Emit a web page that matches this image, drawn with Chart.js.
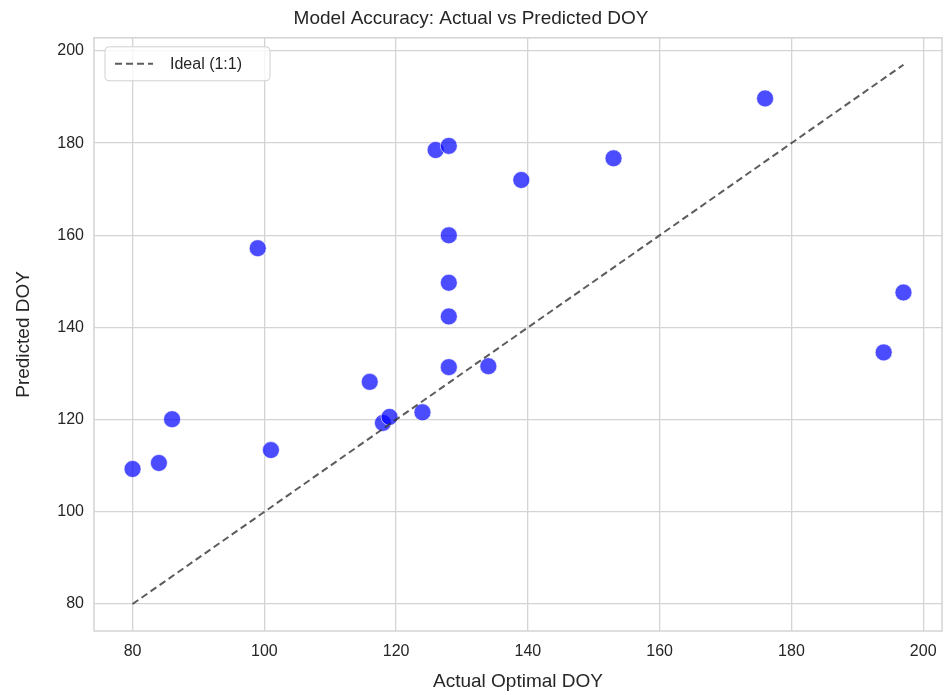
<!DOCTYPE html>
<html>
<head>
<meta charset="utf-8">
<script src="https://cdn.jsdelivr.net/npm/chart.js@4/dist/chart.umd.min.js"></script>
<style>
  html, body { margin: 0; padding: 0; background: #fff; }
  #wrap { width: 945px; height: 695px; }
</style>
</head>
<body>
<div id="wrap"><canvas id="c"></canvas></div>
<script>
// actual vs predicted day of year
const actualDoy = [80, 84, 86, 99, 101, 116, 118, 119, 124, 126, 128, 128, 128, 128, 128, 134, 139, 153, 176, 194, 197];
const predictedDoy = [109.3, 110.6, 120.1, 157.2, 113.4, 128.2, 119.3, 120.6, 121.6, 178.5, 179.4, 160.0, 149.7, 142.4, 131.4, 131.6, 172.0, 176.7, 189.7, 134.6, 147.6];
const idealLine = [80, 197];
const tickValues = [80, 100, 120, 140, 160, 180, 200];

const GRID = '#d4d4d4';
const TXT = '#262626';
const FONT = "'Liberation Sans', Arial, sans-serif";

const pad = (idealLine[1] - idealLine[0]) * 0.05;
const axMin = idealLine[0] - pad, axMax = idealLine[1] + pad;

const frame = {
    id: 'frame',
    afterDraw(chart) {
        const { ctx, chartArea: a } = chart;
        ctx.save();
        ctx.strokeStyle = GRID;
        ctx.lineWidth = 1.5;
        ctx.strokeRect(a.left, a.top, a.right - a.left, a.bottom - a.top);

        // legend box, upper left
        const ds = chart.data.datasets[1];
        const x = a.left + 11, y = a.top + 9, w = 165, h = 34;
        ctx.fillStyle = 'rgba(255,255,255,0.8)';
        ctx.strokeStyle = '#d0d0d0';
        ctx.lineWidth = 1;
        ctx.beginPath();
        ctx.roundRect(x, y, w, h, 4);
        ctx.fill();
        ctx.stroke();
        ctx.strokeStyle = ds.borderColor;
        ctx.lineWidth = ds.borderWidth;
        ctx.setLineDash(ds.borderDash);
        ctx.beginPath();
        ctx.moveTo(x + 10, y + h / 2);
        ctx.lineTo(x + 48, y + h / 2);
        ctx.stroke();
        ctx.setLineDash([]);
        ctx.fillStyle = TXT;
        ctx.font = '16px ' + FONT;
        ctx.textBaseline = 'middle';
        ctx.fillText(ds.label, x + 65, y + h / 2 + 1);
        ctx.restore();
    }
};

new Chart(document.getElementById('c'), {
    type: 'scatter',
    data: {
        datasets: [
            {
                label: 'Predictions',
                data: actualDoy.map((v, i) => ({ x: v, y: predictedDoy[i] })),
                backgroundColor: 'rgba(0,0,255,0.7)',
                borderColor: 'rgba(255,255,255,0.6)',
                borderWidth: 1,
                pointRadius: 8.5,
                pointHoverRadius: 8.5,
                order: 1
            },
            {
                type: 'line',
                label: 'Ideal (1:1)',
                data: idealLine.map(v => ({ x: v, y: v })),
                borderColor: 'rgba(51,51,51,0.8)',
                borderWidth: 2,
                borderDash: [7, 4],
                pointRadius: 0,
                fill: false,
                order: 0
            }
        ]
    },
    options: {
        responsive: true,
        maintainAspectRatio: false,
        animation: false,
        layout: { autoPadding: false, padding: { right: 3, left: 0, top: 0, bottom: 0 } },
        plugins: {
            legend: { display: false },
            tooltip: { enabled: false },
            title: {
                display: true,
                text: 'Model Accuracy: Actual vs Predicted DOY',
                color: TXT,
                font: { family: FONT, size: 19, weight: 'normal' },
                padding: { top: 7, bottom: 8 }
            }
        },
        scales: {
            x: {
                type: 'linear',
                min: axMin,
                max: axMax,
                afterBuildTicks: s => { s.ticks = tickValues.map(v => ({ value: v })); },
                afterFit: s => { s.height = 64; s.paddingRight = 0; s.paddingLeft = 0; },
                grid: { color: GRID, lineWidth: 1.3, drawTicks: false },
                border: { display: false },
                ticks: { color: TXT, padding: 11, font: { family: FONT, size: 16 } },
                title: {
                    display: true,
                    text: 'Actual Optimal DOY',
                    color: TXT,
                    font: { family: FONT, size: 19 },
                    padding: { top: 0, bottom: 2 }
                }
            },
            y: {
                type: 'linear',
                min: axMin,
                max: axMax,
                afterBuildTicks: s => { s.ticks = tickValues.map(v => ({ value: v })); },
                afterFit: s => { s.width = 94; },
                grid: { color: GRID, lineWidth: 1.3, drawTicks: false },
                border: { display: false },
                ticks: { color: TXT, padding: 10, font: { family: FONT, size: 16 } },
                title: {
                    display: true,
                    text: 'Predicted DOY',
                    color: TXT,
                    font: { family: FONT, size: 19 },
                    padding: { top: 12, bottom: 0 }
                }
            }
        }
    },
    plugins: [frame]
});
</script>
</body>
</html>
